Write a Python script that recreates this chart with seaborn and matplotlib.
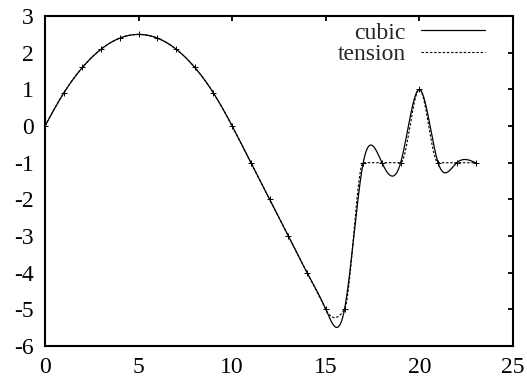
import matplotlib
matplotlib.use('Agg')

import numpy as np
import pandas as pd
import seaborn as sns
import matplotlib.pyplot as plt

# knot values (the "+" marks)
knot_x = [0, 1, 2, 3, 4, 5, 6, 7, 8, 9, 10, 11, 12, 13, 14, 15, 16,
          17, 18, 19, 20, 21, 22, 23]
knot_y = [0, 0.9, 1.6, 2.1, 2.4, 2.5, 2.4, 2.1, 1.6, 0.9, 0, -1, -2, -3, -4, -5, -5,
          -1, -1, -1, 1, -1, -1, -1]
x_ticks = [0, 5, 10, 15, 20, 25]
y_ticks = [-6, -5, -4, -3, -2, -1, 0, 1, 2, 3]
series_names = ['cubic', 'tension']
DASH = (0, (2.2, 1.6))


def natural_cubic(x, y, xs):
    x = np.asarray(x, float)
    y = np.asarray(y, float)
    n = len(x)
    h = np.diff(x)
    A = np.zeros((n, n))
    r = np.zeros(n)
    A[0, 0] = A[-1, -1] = 1.0
    for i in range(1, n - 1):
        A[i, i - 1] = h[i - 1] / 6
        A[i, i] = (h[i - 1] + h[i]) / 3
        A[i, i + 1] = h[i] / 6
        r[i] = (y[i + 1] - y[i]) / h[i] - (y[i] - y[i - 1]) / h[i - 1]
    z = np.linalg.solve(A, r)
    k = np.clip(np.searchsorted(x, xs) - 1, 0, n - 2)
    t0 = x[k + 1] - xs
    t1 = xs - x[k]
    hh = h[k]
    return (z[k] * t0 ** 3 + z[k + 1] * t1 ** 3) / (6 * hh) \
        + (y[k] / hh - z[k] * hh / 6) * t0 + (y[k + 1] / hh - z[k + 1] * hh / 6) * t1


def tension_curve(x, y, xs):
    # local (Akima-type) Hermite curve: flat where the data are flat
    x = np.asarray(x, float)
    y = np.asarray(y, float)
    n = len(x)
    m = np.diff(y) / np.diff(x)
    m = np.concatenate([[3 * m[0] - 2 * m[1], 2 * m[0] - m[1]], m,
                        [2 * m[-1] - m[-2], 3 * m[-1] - 2 * m[-2]]])
    t = np.zeros(n)
    for i in range(n):
        m1, m2, m3, m4 = m[i], m[i + 1], m[i + 2], m[i + 3]
        w1, w2 = abs(m4 - m3), abs(m2 - m1)
        t[i] = (m2 + m3) / 2 if w1 + w2 == 0 else (w1 * m2 + w2 * m3) / (w1 + w2)
    k = np.clip(np.searchsorted(x, xs) - 1, 0, n - 2)
    h = x[k + 1] - x[k]
    s = (xs - x[k]) / h
    h00 = 2 * s ** 3 - 3 * s ** 2 + 1
    h10 = s ** 3 - 2 * s ** 2 + s
    h01 = -2 * s ** 3 + 3 * s ** 2
    h11 = s ** 3 - s ** 2
    return h00 * y[k] + h10 * h * t[k] + h01 * y[k + 1] + h11 * h * t[k + 1]


xs = np.linspace(knot_x[0], knot_x[-1], 1200)
cubic_df = pd.DataFrame({'x': xs, 'y': natural_cubic(knot_x, knot_y, xs)})
tension_df = pd.DataFrame({'x': xs, 'y': tension_curve(knot_x, knot_y, xs)})
knots_df = pd.DataFrame({'x': knot_x, 'y': knot_y})

sns.set_style('white')
plt.rcParams['font.family'] = ['Liberation Serif', 'DejaVu Serif']

fig = plt.figure(figsize=(5.27, 3.83), dpi=100)
ax = fig.add_axes([0.0854, 0.0966, 0.8880, 0.8614])

sns.lineplot(data=cubic_df, x='x', y='y', ax=ax, color='black', lw=0.9,
             estimator=None, sort=False, label=series_names[0])
sns.lineplot(data=tension_df, x='x', y='y', ax=ax, color='black', lw=0.8,
             estimator=None, sort=False, label=series_names[1])
ax.lines[-1].set_linestyle(DASH)
sns.scatterplot(data=knots_df, x='x', y='y', ax=ax, marker='+', color='black',
                s=20, linewidth=0.7, zorder=3, legend=False)

ax.set_xlim(0, 25)
ax.set_ylim(-6, 3)
ax.set_xticks(x_ticks)
ax.set_yticks(y_ticks)
ax.set_xticklabels([str(t) for t in x_ticks])
ax.set_yticklabels([str(t) for t in y_ticks])
ax.set_xlabel('')
ax.set_ylabel('')
ax.tick_params(direction='in', length=3.6, width=1.3, top=True, right=True,
               labelsize=17, colors='black')
ax.tick_params(axis='x', pad=8)
ax.tick_params(axis='y', pad=8)
for sp in ax.spines.values():
    sp.set_linewidth(1.5)
    sp.set_color('black')

leg = ax.legend(loc='upper right', frameon=False, markerfirst=False,
                fontsize=17, handlelength=2.7, handletextpad=0.65,
                labelspacing=0.0, borderpad=0, borderaxespad=0,
                bbox_to_anchor=(485 / 527, (383 - 22) / 383),
                bbox_transform=fig.transFigure)
leg.get_lines()[1].set_linestyle(DASH)

fig.savefig('out.png', dpi=100)
